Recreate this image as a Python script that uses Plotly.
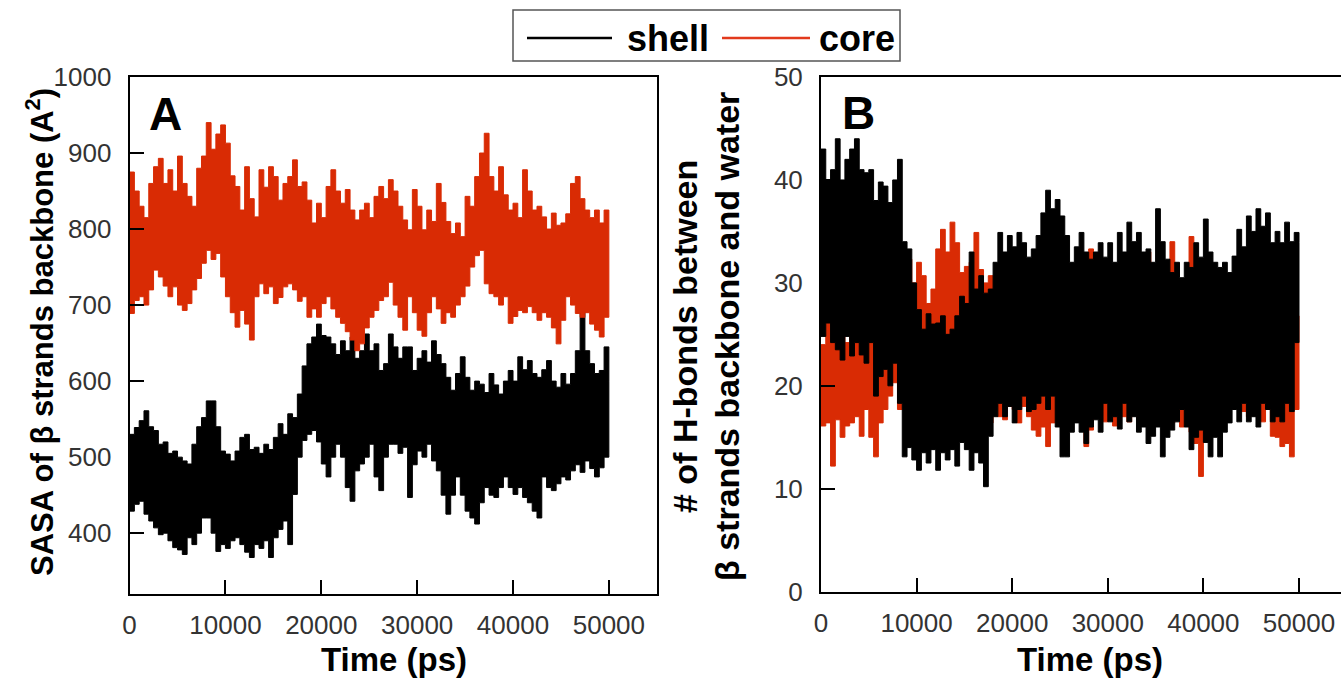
import plotly.graph_objects as go

# ---------------- data ----------------
time_ps = list(range(0, 50001, 500))  # sampling grid, 101 points

# Panel A : SASA (A^2) - upper / lower envelope of each trajectory
core_A_hi = [875, 850, 830, 815, 860, 882, 893, 860, 878, 850,
             896, 860, 843, 830, 880, 896, 940, 905, 925, 937,
             913, 870, 856, 825, 882, 840, 816, 878, 855, 882,
             869, 838, 860, 869, 891, 856, 862, 838, 808, 834,
             815, 856, 878, 850, 834, 852, 825, 812, 825, 834,
             815, 843, 856, 840, 865, 850, 830, 812, 799, 852,
             830, 799, 825, 810, 860, 835, 810, 794, 808, 790,
             843, 830, 869, 900, 926, 869, 850, 882, 845, 825,
             834, 815, 878, 850, 825, 830, 816, 800, 821, 805,
             808, 820, 860, 869, 840, 825, 815, 825, 808, 825,
             825]
core_A_lo = [700, 689, 706, 711, 700, 720, 746, 737, 725, 711,
             724, 700, 693, 702, 720, 735, 755, 772, 760, 768,
             737, 711, 690, 671, 693, 675, 654, 711, 728, 715,
             724, 702, 710, 724, 728, 720, 705, 711, 684, 695,
             684, 702, 711, 695, 684, 676, 665, 654, 640, 649,
             670, 684, 693, 706, 711, 730, 700, 684, 667, 711,
             690, 667, 659, 690, 711, 695, 676, 690, 684, 700,
             711, 725, 750, 765, 772, 728, 715, 711, 700, 711,
             676, 685, 693, 690, 698, 690, 680, 690, 684, 670,
             649, 680, 711, 700, 689, 684, 690, 675, 667, 658,
             684]
shell_A_hi = [530, 539, 548, 561, 540, 535, 517, 520, 505, 508,
              500, 495, 491, 517, 540, 552, 574, 574, 540, 508,
              504, 495, 508, 526, 530, 510, 513, 505, 517, 510,
              526, 544, 530, 557, 552, 583, 620, 649, 658, 675,
              660, 658, 649, 635, 653, 640, 658, 630, 640, 662,
              640, 649, 614, 623, 662, 645, 630, 645, 645, 614,
              630, 640, 625, 653, 635, 623, 605, 588, 610, 632,
              605, 588, 600, 596, 585, 610, 595, 583, 600, 614,
              600, 632, 615, 627, 610, 605, 615, 627, 600, 592,
              610, 596, 610, 640, 693, 640, 623, 610, 614, 645,
              600]
shell_A_lo = [440, 429, 438, 442, 425, 416, 407, 398, 400, 390,
              381, 378, 372, 394, 385, 400, 420, 420, 400, 376,
              385, 380, 390, 394, 385, 375, 368, 385, 380, 390,
              368, 394, 405, 416, 385, 451, 500, 522, 530, 535,
              520, 491, 474, 500, 517, 500, 460, 442, 482, 491,
              500, 517, 474, 456, 500, 517, 517, 505, 513, 447,
              490, 508, 500, 517, 495, 482, 450, 425, 450, 474,
              450, 429, 420, 412, 440, 460, 450, 447, 460, 474,
              460, 451, 460, 447, 440, 429, 420, 474, 460, 456,
              465, 474, 470, 482, 490, 480, 495, 485, 474, 486,
              500]

# Panel B : number of H-bonds - upper / lower envelope
shell_B_hi = [43, 40, 41, 44, 40, 42, 43, 44, 41, 40.7,
              41, 38, 39.8, 39.4, 37.8, 40, 42, 34, 33.3, 30,
              27.4, 25.5, 27, 26, 26.1, 26.8, 25, 25.5, 26.8, 28.7,
              28, 33, 29.4, 30.7, 29, 29.4, 32, 34.9, 33, 34.6,
              33.5, 34.9, 33.9, 32.5, 33.3, 34.6, 36.8, 39, 37.2, 38.1,
              36.5, 34.6, 32, 33.5, 34.9, 33, 32.3, 33, 33.9, 32.5,
              33.9, 32, 34.9, 33, 35.9, 34, 34.9, 33, 33.3, 32,
              37.2, 34, 32.3, 31, 32, 30.5, 32, 31.5, 33.9, 32.5,
              36.2, 33, 32, 31.5, 32, 31, 32.6, 35.2, 33.5, 36.5,
              35, 37.2, 35.5, 36.8, 33.9, 35, 33.9, 35.9, 34, 34.9,
              33.9]
shell_B_lo = [25, 24.8, 26.1, 24.2, 23.5, 22.5, 24.8, 22.9, 24.2, 23,
              22.2, 24.2, 19, 20.9, 21.6, 20, 22.2, 18.3, 13.1, 14,
              12.8, 11.8, 13.5, 12.5, 13.8, 11.8, 13.5, 12.8, 13.8, 12.2,
              14.5, 13.8, 11.8, 13.5, 12.5, 10.2, 15.1, 17, 18.3, 17,
              18, 16.4, 17.7, 19, 17.5, 17.7, 18.3, 19, 17.7, 19,
              16, 13.1, 13.1, 15.5, 16.4, 15.5, 14.4, 16, 16.7, 15.5,
              18.3, 16.5, 17, 15.8, 18.3, 16.5, 17, 15.5, 16, 14.4,
              15.1, 16, 13.1, 15, 15.7, 16.5, 17.7, 16, 13.8, 15,
              15.7, 14.5, 13.1, 15, 13.1, 15.5, 16.4, 17.7, 16.5, 18.3,
              16.5, 17, 16, 18.3, 17.7, 16.5, 17, 16.5, 18.3, 17.5,
              24.2]
core_B_hi = [24, 27, 27.4, 25, 26, 24.2, 25.8, 24.5, 26.4, 25,
             26.1, 24, 24.2, 23.5, 24.2, 23, 25, 32, 32.3, 30,
             32, 30.7, 28, 29.4, 33.3, 35.2, 33, 35.9, 33.9, 31,
             31.6, 32, 34.9, 31.3, 30, 30.7, 26, 24.2, 25, 27,
             26, 28, 27, 26, 28, 27, 28.5, 27, 29, 27,
             29, 30, 28, 31, 29, 28, 33.3, 29, 28, 27.4,
             28, 27, 29, 27.4, 28, 29.4, 28, 28, 33, 30,
             28, 28, 27.4, 34, 28, 28.7, 27, 34.5, 28, 27.4,
             29, 31.3, 28, 28.7, 27, 30.7, 28, 27.4, 31, 26.8,
             28, 32, 27, 26.8, 25, 24.2, 26, 26.1, 25, 26.8,
             26.1]
core_B_lo = [18, 16.1, 16.4, 12.2, 16.7, 15, 16.1, 16.4, 17, 15.1,
             17.7, 15, 13.1, 16.4, 17.7, 19, 20.3, 17.7, 21, 20,
             22, 21, 20, 22, 21, 20, 22, 21, 20, 22,
             21, 20, 22, 21, 20, 19, 16.4, 18, 17, 16.7,
             18, 17.7, 16.4, 18, 17, 15.7, 15.1, 16, 14.1, 16.4,
             16.7, 16.1, 18, 17.7, 16.5, 17, 14.1, 15.7, 17, 17.7,
             16.5, 17, 16.1, 17.5, 17, 16.5, 18.3, 17, 16.4, 17.5,
             17.7, 16.5, 17.5, 17, 16.4, 17, 16, 16.4, 15.5, 14.4,
             11.2, 15, 16.4, 17, 19, 18, 17.7, 18.5, 19, 17.5,
             17, 18, 17, 16.5, 17.7, 15.1, 15, 14.1, 14.4, 13.1,
             17.7]

series_names = ["shell", "core"]
x_ticks = [0, 10000, 20000, 30000, 40000, 50000]
x_tick_labels = ["0", "10000", "20000", "30000", "40000", "50000"]
yA_ticks = [400, 500, 600, 700, 800, 900, 1000]
yA_tick_labels = ["400", "500", "600", "700", "800", "900", "1000"]
yB_ticks = [0, 10, 20, 30, 40, 50]
yB_tick_labels = ["0", "10", "20", "30", "40", "50"]

# ---------------- styling ----------------
W, H = 1341, 679
BLACK = "#000000"
RED = "#d92b04"
FONT = "Liberation Sans, Arial, Helvetica, sans-serif"


def px_x(p):
    return p / W


def px_y(p):
    return (H - p) / H


def band(x, hi, lo, color, xa, ya):
    return go.Scatter(
        x=list(x) + list(x)[::-1],
        y=list(hi) + list(lo)[::-1],
        mode="lines", fill="toself", fillcolor=color,
        line=dict(color=color, width=1, shape="hv"),
        xaxis=xa, yaxis=ya, showlegend=False, hoverinfo="skip")


fig = go.Figure()
# panel A: shell below, core on top
fig.add_trace(band(time_ps, shell_A_hi, shell_A_lo, BLACK, "x", "y"))
fig.add_trace(band(time_ps, core_A_hi, core_A_lo, RED, "x", "y"))
# panel B: core below, shell on top
fig.add_trace(band(time_ps, core_B_hi, core_B_lo, RED, "x2", "y2"))
fig.add_trace(band(time_ps, shell_B_hi, shell_B_lo, BLACK, "x2", "y2"))

axis_common = dict(
    showline=True, linewidth=2, linecolor=BLACK,
    ticks="inside", ticklen=14, tickwidth=2, tickcolor=BLACK,
    showgrid=False, zeroline=False, automargin=False,
    tickfont=dict(family=FONT, size=26, color="#333333"),
)

fig.update_layout(
    width=W, height=H,
    margin=dict(l=0, r=0, t=0, b=0),
    paper_bgcolor="white", plot_bgcolor="white",
    showlegend=False,
    xaxis=dict(domain=[px_x(129.6), px_x(656.8)], range=[0, 55000],
               tickvals=x_ticks, ticktext=x_tick_labels, mirror=True,
               anchor="y", ticklabelstandoff=7, **axis_common),
    yaxis=dict(domain=[px_y(594), px_y(77)], range=[320, 1000],
               tickvals=yA_ticks, ticktext=yA_tick_labels, mirror=True,
               anchor="x", ticklabelstandoff=11, **axis_common),
    xaxis2=dict(domain=[px_x(821), 1.0], range=[0, (1341 - 821) / 0.00956],
                tickvals=x_ticks, ticktext=x_tick_labels, mirror=True,
                anchor="y2", ticklabelstandoff=7, **axis_common),
    yaxis2=dict(domain=[px_y(591.7), px_y(77)], range=[0, 50],
                tickvals=yB_ticks, ticktext=yB_tick_labels, mirror=False,
                anchor="x2", ticklabelstandoff=11, **axis_common),
)

ann = []


def add_text(text, x, y, size, angle=0, bold=True):
    ann.append(dict(text=("<b>%s</b>" % text) if bold else text,
                    x=px_x(x), y=px_y(y), xref="paper", yref="paper",
                    xanchor="center", yanchor="middle", showarrow=False,
                    textangle=angle,
                    font=dict(family=FONT, size=size, color=BLACK)))


add_text("Time (ps)", 394, 659, 33)
add_text("Time (ps)", 1090, 659, 33)
add_text("SASA of β strands backbone (A<sup>2</sup>)", 40, 332, 31, angle=-90)
add_text("# of H-bonds between", 685, 337, 34, angle=-90)
add_text("β strands backbone and water", 727, 337, 34, angle=-90)
add_text("A", 165, 114, 46)
add_text("B", 858, 113, 46)

# legend (drawn as a framed box, like the reference)
ann.append(dict(text="<b>%s</b>" % series_names[0], x=px_x(625), y=px_y(38),
                xref="paper", yref="paper", xanchor="left", yanchor="middle",
                showarrow=False, font=dict(family=FONT, size=36, color=BLACK)))
ann.append(dict(text="<b>%s</b>" % series_names[1], x=px_x(817), y=px_y(38),
                xref="paper", yref="paper", xanchor="left", yanchor="middle",
                showarrow=False, font=dict(family=FONT, size=36, color=BLACK)))
fig.update_layout(annotations=ann)

shapes = [
    dict(type="rect", xref="paper", yref="paper",
         x0=px_x(513), x1=px_x(900), y0=px_y(61), y1=px_y(10),
         line=dict(color="#555555", width=1.5), fillcolor="rgba(0,0,0,0)"),
    dict(type="line", xref="paper", yref="paper",
         x0=px_x(527), x1=px_x(612), y0=px_y(38), y1=px_y(38),
         line=dict(color=BLACK, width=2.5)),
    dict(type="line", xref="paper", yref="paper",
         x0=px_x(722), x1=px_x(810), y0=px_y(38), y1=px_y(38),
         line=dict(color="#e23a1c", width=2.5)),
]
fig.update_layout(shapes=shapes)

fig.write_html("out.html",
               config={"displayModeBar": False},
               post_script="document.body.style.margin='0px';"
                           "document.body.style.overflow='hidden';")
